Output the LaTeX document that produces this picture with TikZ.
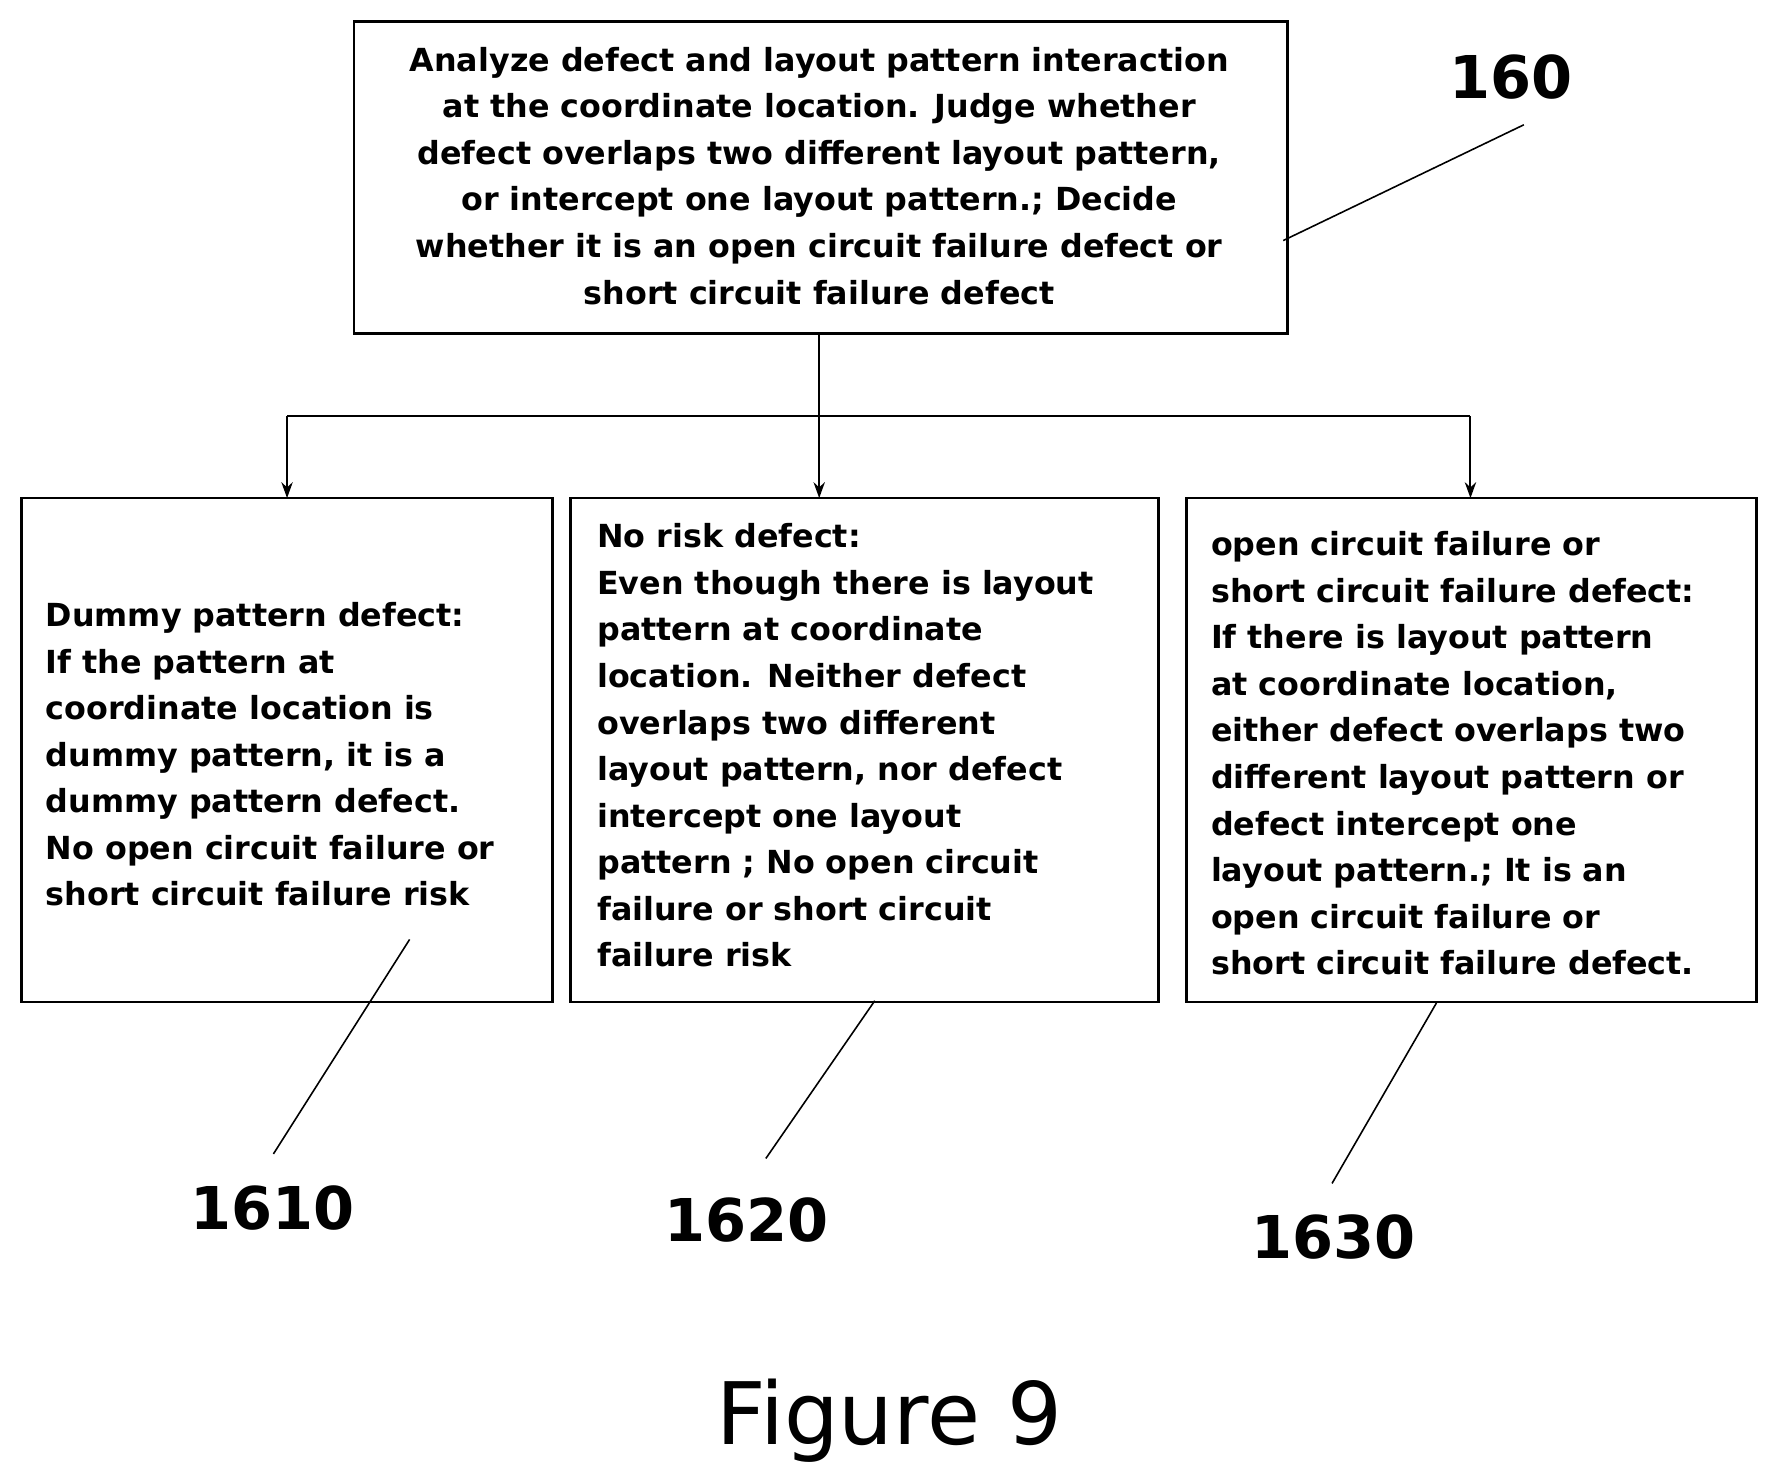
\documentclass[tikz,border=0pt]{standalone}
\usepackage{fontspec}
\setmainfont{DejaVu Sans}
\usetikzlibrary{arrows.meta}
\begin{document}
\begin{tikzpicture}[x=0.5pt,y=-0.5pt,
  box/.style={draw,line width=1.2pt},
  txt/.style={font=\fontsize{14}{20.5}\selectfont\bfseries,inner sep=0pt},
  lbl/.style={font=\fontsize{26}{30}\selectfont\bfseries,inner sep=0pt},
  ld/.style={line width=0.7pt},
  arr/.style={line width=0.9pt,-{Stealth[length=7pt,width=5pt]}}]
\useasboundingbox (0,0) rectangle (1560,1305);
\draw[box] (312,19) rectangle (1135,294);
\draw[box] (19,439) rectangle (487,883);
\draw[box] (503,439) rectangle (1021,883);
\draw[box] (1046,439) rectangle (1548,883);
\coordinate (tb) at (722,294);
\coordinate (jn) at (722,367);
\coordinate (jl) at (253,367);
\coordinate (jr) at (1296,367);
\coordinate (bl) at (253,439);
\coordinate (bm) at (722,439);
\coordinate (br) at (1296,439);
\node[txt,align=center] (t) at (722,155) {Analyze defect and layout pattern interaction\\at the coordinate location. Judge whether\\defect overlaps two different layout pattern,\\or intercept one layout pattern.; Decide\\whether it is an open circuit failure defect or\\short circuit failure defect};
\node[txt,align=left,anchor=west] (a) at (40,665) {Dummy pattern defect:\\If the pattern at\\coordinate location is\\dummy pattern, it is a\\dummy pattern defect.\\No open circuit failure or\\short circuit failure risk};
\node[txt,align=left,anchor=west] (b) at (526,657) {No risk defect:\\Even though there is layout\\pattern at coordinate\\location. Neither defect\\overlaps two different\\layout pattern, nor defect\\intercept one layout\\pattern ; No open circuit\\failure or short circuit\\failure risk};
\node[txt,align=left,anchor=west] (c) at (1067,664) {open circuit failure or\\short circuit failure defect:\\If there is layout pattern\\at coordinate location,\\either defect overlaps two\\different layout pattern or\\defect intercept one\\layout pattern.; It is an\\open circuit failure or\\short circuit failure defect.};
\draw[line width=0.9pt] (tb) -- (jn);
\draw[line width=0.9pt] (jl) -- (jr);
\draw[arr] (jl) -- (bl);
\draw[arr] (jn) -- (bm);
\draw[arr] (jr) -- (br);
\node[lbl] (n160) at (1332,68) {160};
\node[lbl] (n1610) at (240,1065) {1610};
\node[lbl] (n1620) at (658,1075) {1620};
\node[lbl] (n1630) at (1175,1090) {1630};
\coordinate (e0) at (1343,110); \coordinate (f0) at (1131,212);
\coordinate (e1) at (361,828); \coordinate (f1) at (241,1017);
\coordinate (e2) at (771,882); \coordinate (f2) at (675,1021);
\coordinate (e3) at (1266,884); \coordinate (f3) at (1174,1043);
\draw[ld] (e0) -- (f0);
\draw[ld] (e1) -- (f1);
\draw[ld] (e2) -- (f2);
\draw[ld] (e3) -- (f3);
\node[inner sep=0pt,font=\fontsize{38}{44}\selectfont] (fig) at (784,1252) {Figure 9};
\end{tikzpicture}
\end{document}
